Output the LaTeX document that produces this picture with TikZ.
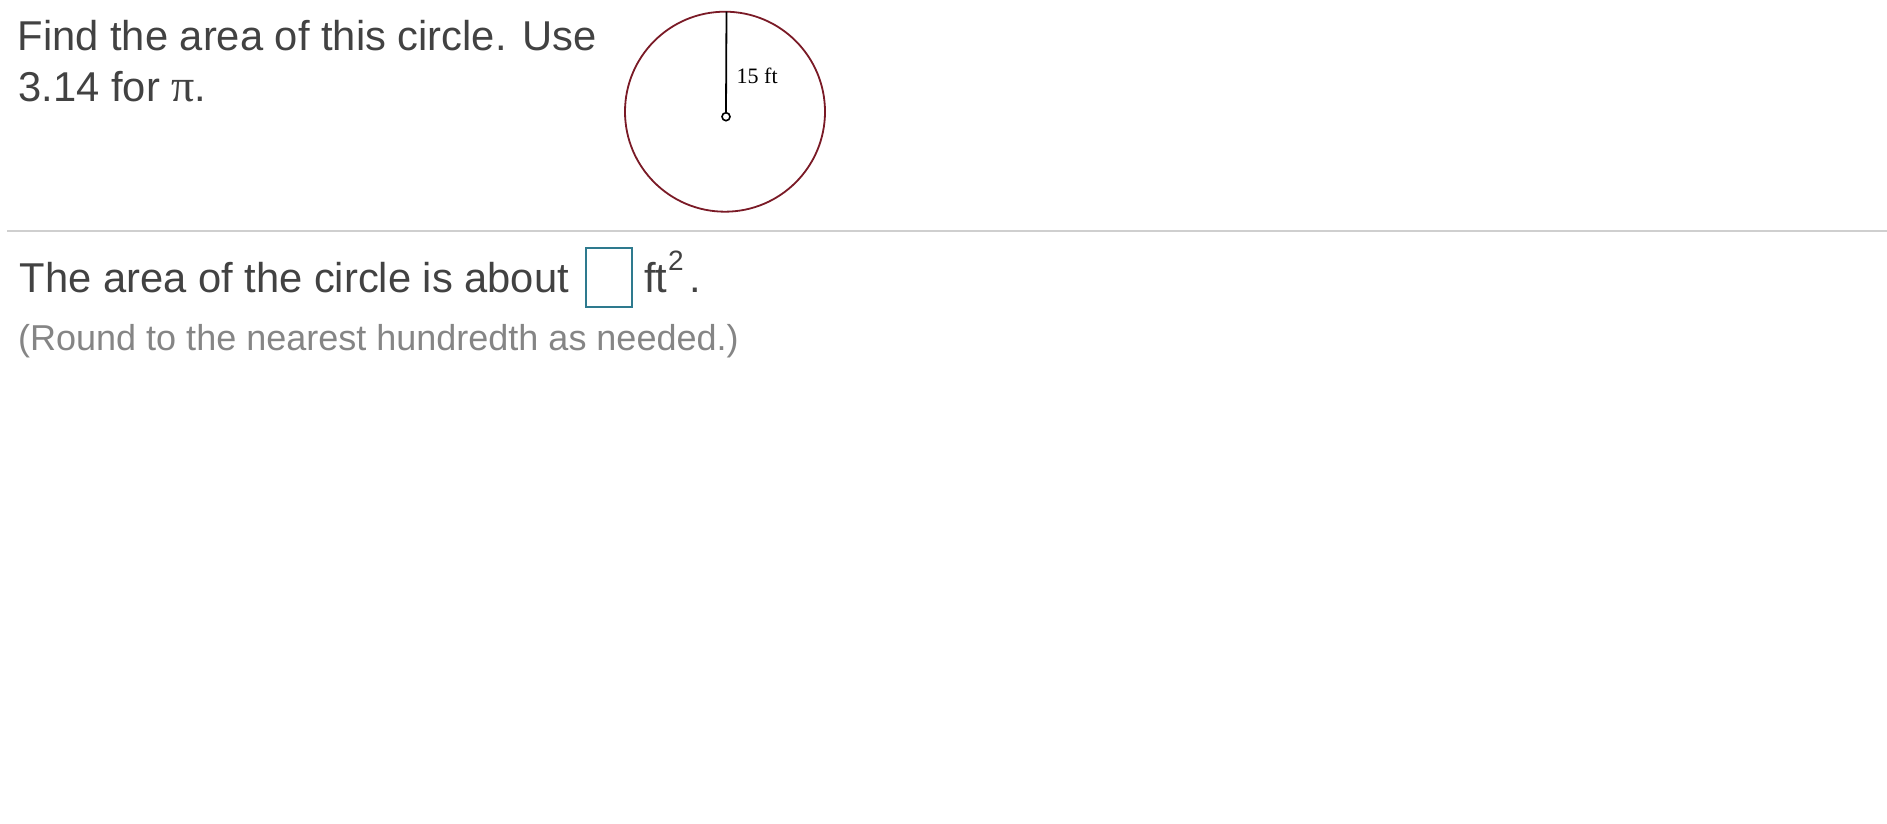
\documentclass[tikz,border=0pt]{standalone}
\usepackage{fontspec}
\setmainfont{Liberation Sans}
\newfontfamily\serifface{Liberation Serif}
\definecolor{txt}{HTML}{424242}
\definecolor{hint}{HTML}{858585}
\definecolor{rim}{HTML}{7A1A26}
\definecolor{rule}{HTML}{CFCFCF}
\definecolor{ansbox}{HTML}{2E7A8E}
\begin{document}
\begin{tikzpicture}[x=1bp,y=-1bp,
  big/.style={anchor=base west,inner sep=0pt,text=txt,font=\fontsize{41.7bp}{50bp}\selectfont},
  small/.style={anchor=base west,inner sep=0pt,text=hint,font=\fontsize{36bp}{42bp}\selectfont},
  lbl/.style={anchor=base west,inner sep=0pt,text=black,font=\serifface\fontsize{22bp}{26bp}\selectfont}]
\useasboundingbox[fill=white] (0,0) rectangle (1887,824);
% question text
\node[big] (q1) at (17.5,50) {Find the area of this circle. Use};
\node[big] (q2) at (18.5,101.7) {3.14 for {\serifface\fontsize{46bp}{50bp}\selectfont π}.};
% circle figure
\draw[rim,line width=1.8bp] (725,111.7) circle (100);
\coordinate (top) at (726.5,11.7);
\node[circle,draw=black,line width=1.6bp,minimum size=8bp,inner sep=0pt] (ctr) at (726,116.7) {};
\draw[black,line width=1.8bp] (top) -- (ctr.north);
\node[lbl] (r) at (736.5,83.3) {15 ft};
% separator
\draw[rule,line width=1.8bp] (7,230.7) -- (1887,230.7);
% answer line
\node[big] (a1) at (19.5,292.3) {The area of the circle is about};
\node[draw=ansbox,line width=1.8bp,minimum width=46bp,minimum height=59bp,inner sep=0pt] (box) at (609.2,277.8) {};
\node[big] (ft) at (644,292.3) {ft};
\node[anchor=base west,inner sep=0pt,text=txt,font=\fontsize{28bp}{32bp}\selectfont] (sq) at (668,270) {2};
\node[big] (dot) at (689,292.3) {.};
\node[small] (hintline) at (18,350) {(Round to the nearest hundredth as needed.)};
\end{tikzpicture}
\end{document}
